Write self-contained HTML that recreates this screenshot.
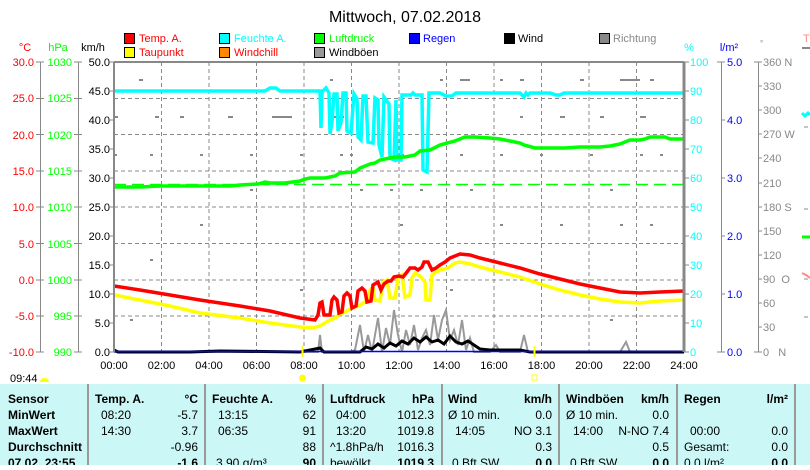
<!DOCTYPE html>
<html><head><meta charset="utf-8"><style>
body{margin:0;background:#fff;width:810px;height:465px;overflow:hidden;font-family:"Liberation Sans",sans-serif;}
svg text{font-family:"Liberation Sans",sans-serif;}
</style></head><body>
<svg width="810" height="465" viewBox="0 0 810 465" xmlns="http://www.w3.org/2000/svg">
<text x="405" y="22" font-size="16" text-anchor="middle" fill="#000">Mittwoch, 07.02.2018</text>
<g font-size="11">
<rect x="124.5" y="33.5" width="10" height="10" fill="#f00" stroke="#000"/><text x="139" y="42" fill="#f00">Temp. A.</text>
<rect x="124.5" y="47.5" width="10" height="10" fill="#ff0" stroke="#000"/><text x="139" y="56" fill="#f00">Taupunkt</text>
<rect x="219.5" y="33.5" width="10" height="10" fill="#0ff" stroke="#000"/><text x="234" y="42" fill="#0ff">Feuchte A.</text>
<rect x="219.5" y="47.5" width="10" height="10" fill="#f80" stroke="#000"/><text x="234" y="56" fill="#f00">Windchill</text>
<rect x="314.5" y="33.5" width="10" height="10" fill="#0f0" stroke="#000"/><text x="329" y="42" fill="#0f0">Luftdruck</text>
<rect x="314.5" y="47.5" width="10" height="10" fill="#999" stroke="#000"/><text x="329" y="56" fill="#000">Windböen</text>
<rect x="409.5" y="33.5" width="10" height="10" fill="#00f" stroke="#000"/><text x="423" y="42" fill="#00f">Regen</text>
<rect x="504.5" y="33.5" width="10" height="10" fill="#000" stroke="#000"/><text x="518" y="42" fill="#000">Wind</text>
<rect x="599.5" y="33.5" width="10" height="10" fill="#888" stroke="#000"/><text x="613" y="42" fill="#888">Richtung</text>
</g>
<g font-size="11">
<text x="25" y="51" text-anchor="middle" fill="#f00">°C</text>
<text x="58" y="51" text-anchor="middle" fill="#0f0">hPa</text>
<text x="93" y="51" text-anchor="middle" fill="#000">km/h</text>
<text x="689" y="51" text-anchor="middle" fill="#0ff">%</text>
<text x="729" y="51" text-anchor="middle" fill="#00f">l/m²</text>
<text x="760" y="46" fill="#888" font-size="8">°</text>
<text x="803" y="42" fill="#f88">T</text>
</g>
<g stroke="#888" stroke-dasharray="4,3" stroke-width="1">
<line x1="114" y1="98.5" x2="684" y2="98.5"/><line x1="114" y1="134.5" x2="684" y2="134.5"/><line x1="114" y1="171" x2="684" y2="171"/><line x1="114" y1="207" x2="684" y2="207"/><line x1="114" y1="243.5" x2="684" y2="243.5"/><line x1="114" y1="280" x2="684" y2="280"/><line x1="114" y1="316" x2="684" y2="316"/>
<line x1="161.5" y1="62" x2="161.5" y2="352"/><line x1="209" y1="62" x2="209" y2="352"/><line x1="256.5" y1="62" x2="256.5" y2="352"/><line x1="304" y1="62" x2="304" y2="352"/><line x1="351.5" y1="62" x2="351.5" y2="352"/><line x1="399" y1="62" x2="399" y2="352"/><line x1="446.5" y1="62" x2="446.5" y2="352"/><line x1="494" y1="62" x2="494" y2="352"/><line x1="541.5" y1="62" x2="541.5" y2="352"/><line x1="589" y1="62" x2="589" y2="352"/><line x1="636.5" y1="62" x2="636.5" y2="352"/>
</g>
<g stroke="#888" stroke-width="2">
<path d="M139 80h4M155 117h4M180 117h4M228 117h5M272 117h20M330 117h14M340 155h3M350 155h3M330 80h3M440 80h3M460 80h10M500 80h3M520 80h4M580 80h4M620 80h20M650 80h4M520 117h3M560 117h5M600 117h4M640 117h6M114 117h4M114 155h3M150 155h3M200 155h3M250 155h3M300 155h3M400 155h4M460 155h3M500 155h3M540 155h3M590 155h3M640 155h3M660 155h3M250 190h3M360 190h3M420 190h3M610 190h3M200 225h3M400 225h3M500 225h3M560 225h3M620 225h3M650 225h3M150 260h3M300 290h3M450 290h3M610 320h3M130 320h3M390 190h3M470 190h3"/>
</g>
<line x1="114" y1="184.5" x2="684" y2="184.5" stroke="#0f0" stroke-dasharray="12,6" stroke-width="1.5"/>
<polyline fill="none" stroke="#999" stroke-width="2" points="114,352 310,352 318,352 320,335 322,352 350,352 355,350 360,325 364,352 368,335 372,352 378,318 382,352 386,328 390,345 394,310 398,335 402,352 406,330 410,345 414,325 418,350 422,338 426,330 430,345 434,315 438,340 442,320 446,310 450,340 454,330 458,345 462,320 466,350 470,338 474,352 490,352 496,345 500,352 520,352 524,335 528,352 620,352 626,342 630,352 684,352"/>
<polyline fill="none" stroke="#000" stroke-width="3" points="114,350 118,352 168,352 190,352 220,351 300,352 320,348 324,352 360,352 366,347 372,349 378,344 384,348 390,343 396,346 402,341 408,344 414,338 420,342 426,337 432,342 438,340 444,344 450,336 456,342 462,344 468,341 474,345 480,349 490,350 520,350 530,352 684,352"/>
<line x1="114" y1="351.5" x2="684" y2="351.5" stroke="#00f" stroke-width="1.5"/>
<polyline fill="none" stroke="#0ff" stroke-width="3.5" points="114,91 265,91 270,88 276,88 280,91 320,91 321,128 322,92 326,88 329,93 330,134 332,122 334,94 337,94 338,131 341,123 343,93 346,93 347,131 351,133 354,94 357,99 358,137 361,140 363,96 366,96 368,142 373,143 375,98 378,100 379,145 382,157 384,97 389,104 390,158 394,160 396,100 397,160 401,160 402,95 411,95 413,93 415,95 422,95 423,170 427,172 429,93 440,93 446,96 452,96 456,93 520,93 524,97 526,93 528,95 530,93 550,93 556,95 560,95 564,93 684,93"/>
<polyline fill="none" stroke="#0f0" stroke-width="3.5" points="114,187 140,187 160,186 200,186 230,186 240,185 258,184 265,182 270,183 285,183 300,181 305,179 310,178 325,178 335,176 340,173 355,172 360,168 370,164 375,163 380,160 390,158 395,157 405,157 415,155 420,151 430,150 440,145 455,141 465,137 475,137 490,138 500,139 510,141 520,143 524,145 535,148 545,148 565,148 580,147 600,147 610,146 615,145 620,144 630,140 640,140 645,139 650,137 665,137 670,139 684,139"/>
<polyline fill="none" stroke="#ff0" stroke-width="3.5" points="114,295 140,300 170,306 200,313 240,318 270,323 300,327 312,328 320,326 328,321 335,318 340,314 345,312 350,309 355,307 360,305 365,302 368,300 370,290 373,287 375,300 380,301 383,282 387,280 390,298 395,298 398,278 402,275 405,297 410,295 412,278 415,273 420,276 425,282 426,300 430,300 432,275 436,272 440,270 448,268 455,263 460,262 470,264 480,267 500,272 520,277 540,284 560,290 580,295 600,299 620,302 640,303 660,301 684,300"/>
<polyline fill="none" stroke="#f00" stroke-width="3.5" points="114,286 140,290 170,295 200,300 240,306 270,311 300,318 315,320 318,315 320,303 322,302 324,315 330,315 332,300 334,297 337,300 339,313 342,312 344,296 347,293 350,296 352,308 356,306 358,291 362,288 365,291 367,302 371,301 373,285 378,282 381,290 384,284 388,281 391,281 394,277 399,276 403,277 407,272 410,268 415,268 418,270 422,267 424,262 428,262 432,270 436,268 440,265 445,262 450,258 455,256 460,254 470,255 480,258 500,263 520,268 540,274 560,279 580,284 600,288 620,292 640,293 660,292 684,291"/>
<line x1="302.5" y1="346" x2="302.5" y2="357" stroke="#ff0" stroke-width="2"/>
<line x1="534.5" y1="346" x2="534.5" y2="357" stroke="#ff0" stroke-width="2"/>
<circle cx="302.5" cy="378" r="3.5" fill="#ff0"/>
<rect x="532" y="375" width="5" height="5" fill="none" stroke="#ff0"/>
<line x1="114" y1="62" x2="684" y2="62" stroke="#888" stroke-width="2"/>
<line x1="114" y1="62" x2="114" y2="352" stroke="#888" stroke-width="2"/>
<line x1="684" y1="62" x2="684" y2="352" stroke="#888" stroke-width="3"/>
<g stroke="#888" stroke-width="1">
<line x1="40.5" y1="62" x2="40.5" y2="352"/><line x1="78.5" y1="62" x2="78.5" y2="352"/>
<line x1="721.5" y1="62" x2="721.5" y2="352"/><line x1="758.5" y1="62" x2="758.5" y2="352"/>
</g>
<g font-size="11" fill="#f00" text-anchor="end">
<text x="34" y="66">30.0</text><text x="34" y="102">25.0</text><text x="34" y="139">20.0</text><text x="34" y="175">15.0</text><text x="34" y="211">10.0</text><text x="34" y="248">5.0</text><text x="34" y="284">0.0</text><text x="34" y="320">-5.0</text><text x="34" y="356">-10.0</text>
</g>
<g font-size="11" fill="#0f0" text-anchor="end">
<text x="72" y="66">1030</text><text x="72" y="102">1025</text><text x="72" y="139">1020</text><text x="72" y="175">1015</text><text x="72" y="211">1010</text><text x="72" y="248">1005</text><text x="72" y="284">1000</text><text x="72" y="320">995</text><text x="72" y="356">990</text>
</g>
<g font-size="11" fill="#000" text-anchor="end">
<text x="110" y="66">50.0</text><text x="110" y="95">45.0</text><text x="110" y="124">40.0</text><text x="110" y="153">35.0</text><text x="110" y="182">30.0</text><text x="110" y="211">25.0</text><text x="110" y="240">20.0</text><text x="110" y="269">15.0</text><text x="110" y="298">10.0</text><text x="110" y="327">5.0</text><text x="110" y="356">0.0</text>
</g>
<g stroke="#888"><path d="M36 62h8M36 98.5h8M36 134.5h8M36 171h8M36 207h8M36 243.5h8M36 280h8M36 316h8M36 352h8M74 62h8M74 98.5h8M74 134.5h8M74 171h8M74 207h8M74 243.5h8M74 280h8M74 316h8M74 352h8M110 62h4M110 91h4M110 120h4M110 149h4M110 178h4M110 207h4M110 236h4M110 265h4M110 294h4M110 323h4M110 352h4"/></g>
<g stroke="#888"><path d="M684 62h5M684 91h5M684 120h5M684 149h5M684 178h5M684 207h5M684 236h5M684 265h5M684 294h5M684 323h5M684 352h5M717 62h8M721 120h4M721 178h4M721 236h4M721 294h4M717 352h8M754 62h8M758 86h4M758 110h4M758 134h4M758 158h4M758 183h4M758 207h4M758 231h4M758 255h4M758 279h4M758 303h4M758 327h4M754 352h8"/></g>
<g font-size="11" fill="#0ff">
<text x="690" y="66">100</text><text x="690" y="95">90</text><text x="690" y="124">80</text><text x="690" y="153">70</text><text x="690" y="182">60</text><text x="690" y="211">50</text><text x="690" y="240">40</text><text x="690" y="269">30</text><text x="690" y="298">20</text><text x="690" y="327">10</text><text x="690" y="356">0</text>
</g>
<g font-size="11" fill="#00f">
<text x="727" y="66">5.0</text><text x="727" y="124">4.0</text><text x="727" y="182">3.0</text><text x="727" y="240">2.0</text><text x="727" y="298">1.0</text><text x="727" y="356">0.0</text>
</g>
<g font-size="11" fill="#888">
<text x="763" y="66">360 N</text><text x="763" y="90">330</text><text x="763" y="114">300</text><text x="763" y="138">270 W</text><text x="763" y="162">240</text><text x="763" y="187">210</text><text x="763" y="211">180 S</text><text x="763" y="235">150</text><text x="763" y="259">120</text><text x="763" y="283">90&#160;&#160;O</text><text x="763" y="307">60</text><text x="763" y="331">30</text><text x="763" y="356">0&#160;&#160;&#160;N</text>
</g>
<path d="M802 48h8" stroke="#888" stroke-width="2"/>
<path d="M802 113l3 3 3-3 2 2" stroke="#0ff" stroke-width="3" fill="none"/>
<path d="M802 237h8" stroke="#0f0" stroke-width="3"/>
<path d="M802 273l4 2 4 3" stroke="#f88" stroke-width="2" fill="none"/>
<path d="M804 127h4M804 209h4M804 279h4M804 317h4" stroke="#888"/>
<g font-size="11" fill="#000" text-anchor="middle">
<text x="114" y="369">00:00</text><text x="161.5" y="369">02:00</text><text x="209" y="369">04:00</text><text x="256.5" y="369">06:00</text><text x="304" y="369">08:00</text><text x="351.5" y="369">10:00</text><text x="399" y="369">12:00</text><text x="446.5" y="369">14:00</text><text x="494" y="369">16:00</text><text x="541.5" y="369">18:00</text><text x="589" y="369">20:00</text><text x="636.5" y="369">22:00</text><text x="684" y="369">24:00</text>
</g>
<text x="10" y="382" font-size="11">09:44</text>
<path d="M40 382a4.5 4 0 0 1 9 0z" fill="#ff0"/>
<rect x="0" y="384" width="810" height="81" fill="#ccf7f7"/>
<g stroke="#999" stroke-width="2"><path d="M88 384v81M205 384v81M323 384v81M442 384v81M559 384v81M677 384v81M795 384v81"/></g>
<g font-size="12" fill="#000">
<g font-weight="bold">
<text x="8" y="403">Sensor</text><text x="8" y="419">MinWert</text><text x="8" y="435">MaxWert</text><text x="8" y="451">Durchschnitt</text><text x="8" y="467">07.02. 23:55</text>
<text x="95" y="403">Temp. A.</text><text x="198" y="403" text-anchor="end">°C</text>
<text x="212" y="403">Feuchte A.</text><text x="316" y="403" text-anchor="end">%</text>
<text x="330" y="403">Luftdruck</text><text x="434" y="403" text-anchor="end">hPa</text>
<text x="448" y="403">Wind</text><text x="552" y="403" text-anchor="end">km/h</text>
<text x="566" y="403">Windböen</text><text x="669" y="403" text-anchor="end">km/h</text>
<text x="684" y="403">Regen</text><text x="788" y="403" text-anchor="end">l/m²</text>
<text x="198" y="467" text-anchor="end">-1.6</text><text x="316" y="467" text-anchor="end">90</text><text x="434" y="467" text-anchor="end">1019.3</text><text x="552" y="467" text-anchor="end">0.0</text><text x="669" y="467" text-anchor="end">0.0</text><text x="788" y="467" text-anchor="end">0.0</text>
</g>
<text x="101" y="419">08:20</text><text x="198" y="419" text-anchor="end">-5.7</text>
<text x="101" y="435">14:30</text><text x="198" y="435" text-anchor="end">3.7</text>
<text x="198" y="451" text-anchor="end">-0.96</text>
<text x="218" y="419">13:15</text><text x="316" y="419" text-anchor="end">62</text>
<text x="218" y="435">06:35</text><text x="316" y="435" text-anchor="end">91</text>
<text x="316" y="451" text-anchor="end">88</text><text x="216" y="467">3.90 g/m³</text>
<text x="336" y="419">04:00</text><text x="434" y="419" text-anchor="end">1012.3</text>
<text x="336" y="435">13:20</text><text x="434" y="435" text-anchor="end">1019.8</text>
<text x="330" y="451">^1.8hPa/h</text><text x="434" y="451" text-anchor="end">1016.3</text><text x="330" y="467">bewölkt</text>
<text x="448" y="419">Ø 10 min.</text><text x="552" y="419" text-anchor="end">0.0</text>
<text x="455" y="435">14:05</text><text x="552" y="435" text-anchor="end">NO 3.1</text>
<text x="552" y="451" text-anchor="end">0.3</text><text x="452" y="467">0 Bft SW</text>
<text x="566" y="419">Ø 10 min.</text><text x="669" y="419" text-anchor="end">0.0</text>
<text x="573" y="435">14:00</text><text x="669" y="435" text-anchor="end">N-NO 7.4</text>
<text x="669" y="451" text-anchor="end">0.5</text><text x="570" y="467">0 Bft SW</text>
<text x="690" y="435">00:00</text><text x="788" y="435" text-anchor="end">0.0</text>
<text x="684" y="451">Gesamt:</text><text x="788" y="451" text-anchor="end">0.0</text><text x="684" y="467">0.0 l/m²</text>
</g>
</svg>
</body></html>
